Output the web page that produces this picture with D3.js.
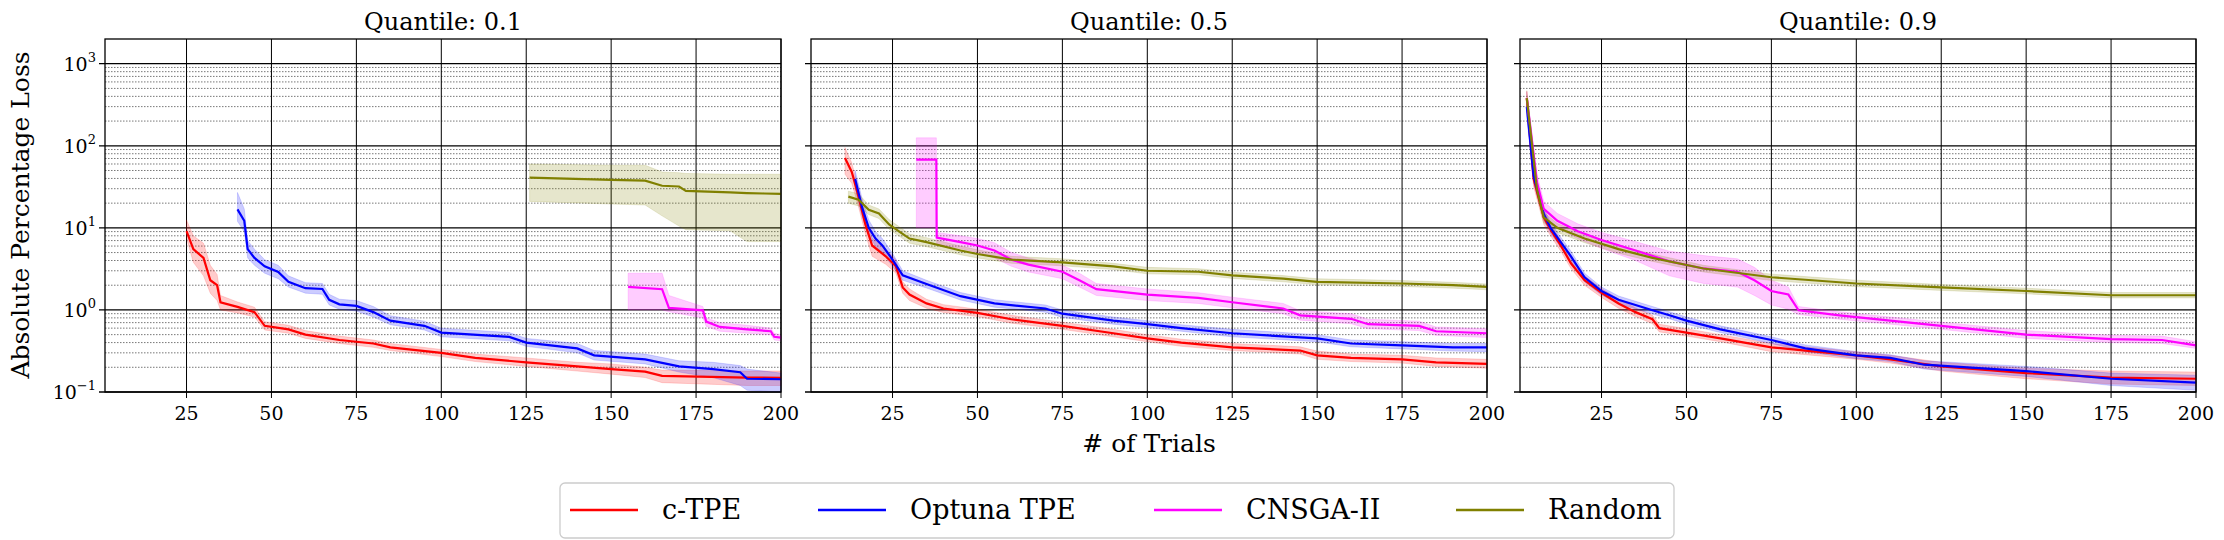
<!DOCTYPE html>
<html><head><meta charset="utf-8">
<script src="https://cdn.jsdelivr.net/npm/d3@7"></script>
<style>body{margin:0;background:#fff}text{font-family:"DejaVu Serif","Liberation Serif",serif}</style>
</head><body><svg id="c" width="2224" height="540"></svg>
<script>
// panel titles and series
var titles = ["Quantile: 0.1", "Quantile: 0.5", "Quantile: 0.9"];
var names = ["c-TPE", "Optuna TPE", "CNSGA-II", "Random"];
var colors = ["#ff0000", "#0000ff", "#ff00ff", "#808000"];
var xTicks = [25, 50, 75, 100, 125, 150, 175, 200];
var yTicks = [0.1, 1, 10, 100, 1000];

// quantile 0.1
var q1_ctpe_x = [25,27,30,32,34,35,40,45,48,55,60,70,80,85,100,110,125,140,150,160,165,190,200];
var q1_ctpe_m = [9.1,5.5,4.3,2.3,2.0,1.24,1.09,0.94,0.64,0.58,0.5,0.43,0.39,0.35,0.30,0.26,0.23,0.205,0.19,0.177,0.157,0.15,0.149];
var q1_ctpe_lo = [7.5,3.8,2.6,1.6,1.3,1.0,0.92,0.82,0.57,0.52,0.45,0.39,0.35,0.32,0.27,0.235,0.205,0.18,0.165,0.15,0.13,0.12,0.12];
var q1_ctpe_hi = [12.5,8,6.5,3.5,2.7,1.5,1.25,1.08,0.72,0.65,0.56,0.48,0.43,0.39,0.33,0.29,0.26,0.23,0.22,0.2,0.185,0.18,0.18];
var q1_otpe_x = [40,42,43,45,48,52,55,60,65,67,70,75,80,85,95,100,120,125,140,145,160,170,180,188,190,200];
var q1_otpe_m = [16.8,12.2,5.5,4.3,3.4,2.9,2.2,1.84,1.8,1.33,1.17,1.12,0.94,0.74,0.64,0.53,0.47,0.40,0.34,0.28,0.25,0.205,0.19,0.174,0.145,0.143];
var q1_otpe_lo = [12,9,4.3,3.5,2.8,2.4,1.9,1.6,1.55,1.15,1.02,0.97,0.82,0.66,0.57,0.47,0.42,0.36,0.3,0.245,0.22,0.175,0.15,0.12,0.105,0.1];
var q1_otpe_hi = [27,17,7,5.5,4.1,3.5,2.6,2.15,2.1,1.55,1.35,1.3,1.1,0.85,0.73,0.6,0.53,0.45,0.39,0.32,0.29,0.24,0.23,0.21,0.19,0.17];
var q1_cns_x = [155,165,167,177,178,182,190,197,198,200];
var q1_cns_m = [1.91,1.79,1.06,0.99,0.72,0.62,0.58,0.55,0.47,0.46];
var q1_cns_lo = [1.0,1.0,0.95,0.8,0.63,0.55,0.52,0.5,0.43,0.42];
var q1_cns_hi = [2.8,2.8,1.5,1.1,0.8,0.7,0.65,0.6,0.52,0.5];
var q1_rnd_x = [126,150,160,165,170,172,185,190,195,200];
var q1_rnd_m = [40.9,38.4,37.6,32.6,31.9,28.2,27,26.5,26.2,26];
var q1_rnd_lo = [21,19.5,19,14,10.5,9.5,9.2,6.8,6.8,6.8];
var q1_rnd_hi = [60,58,58,48,47,46,45,45,45,45];

// quantile 0.5
var q5_ctpe_x = [11,13,15,17,19,23,26,28,30,35,40,50,60,75,90,100,110,125,145,150,160,175,185,200];
var q5_ctpe_m = [71,48,24,11,6.1,4.5,3.4,1.88,1.54,1.2,1.04,0.92,0.77,0.64,0.52,0.45,0.40,0.35,0.32,0.28,0.26,0.25,0.23,0.22];
var q5_ctpe_lo = [45,35,18,8.5,4.5,3.6,2.8,1.6,1.3,1.05,0.93,0.83,0.69,0.58,0.47,0.41,0.36,0.32,0.29,0.25,0.235,0.225,0.205,0.195];
var q5_ctpe_hi = [95,62,30,14,7.5,5.5,4.1,2.2,1.8,1.35,1.16,1.02,0.86,0.71,0.58,0.5,0.44,0.39,0.355,0.315,0.29,0.28,0.26,0.25];
var q5_otpe_x = [14,16,18,20,22,25,28,35,45,55,70,75,90,100,110,125,150,160,175,190,200];
var q5_otpe_m = [39.5,18,10,7.4,6.1,4.1,2.64,2.07,1.47,1.2,1.04,0.9,0.74,0.67,0.6,0.52,0.45,0.39,0.37,0.35,0.35];
var q5_otpe_lo = [30,14,8,6,5,3.4,2.3,1.85,1.32,1.08,0.94,0.81,0.67,0.61,0.55,0.47,0.41,0.355,0.335,0.315,0.31];
var q5_otpe_hi = [50,23,12.5,9,7.4,4.9,3.0,2.3,1.63,1.33,1.15,1.0,0.82,0.74,0.66,0.58,0.5,0.43,0.41,0.39,0.39];
var q5_cns_x = [32,37.9,38,45,50,55,60,65,75,80,85,100,115,125,140,145,160,165,180,185,200];
var q5_cns_m = [68,68,7.6,6.7,6.1,5.3,4.1,3.56,2.92,2.3,1.79,1.54,1.40,1.24,1.04,0.86,0.78,0.67,0.64,0.55,0.52];
var q5_cns_lo = [10,10,6.3,5.6,5.0,4.3,3.4,2.9,2.4,1.9,1.5,1.3,1.2,1.06,0.9,0.75,0.68,0.59,0.56,0.49,0.46];
var q5_cns_hi = [125,125,8.8,8.0,7.4,6.6,5.0,4.3,3.5,2.8,2.1,1.8,1.62,1.43,1.2,0.98,0.9,0.77,0.73,0.62,0.59];
var q5_rnd_x = [12,15,18,21,24,27,30,35,45,50,60,75,90,100,115,125,140,150,175,190,200];
var q5_rnd_m = [24,22,16.6,15,11,9,7.4,6.7,5.3,4.8,4.1,3.8,3.4,3.0,2.92,2.64,2.4,2.2,2.1,2.0,1.91];
var q5_rnd_lo = [20,18.5,14.5,13,9.6,7.9,6.5,5.9,4.7,4.3,3.7,3.45,3.1,2.75,2.68,2.42,2.2,2.02,1.93,1.84,1.76];
var q5_rnd_hi = [28,26,19,17,12.6,10.3,8.4,7.6,6,5.4,4.5,4.2,3.7,3.3,3.18,2.88,2.62,2.4,2.28,2.17,2.07];

// quantile 0.9
var q9_ctpe_x = [3,5,8,10,13,16,20,25,30,35,40,42,50,60,75,85,100,110,125,150,175,200];
var q9_ctpe_m = [380,39.5,13.4,9.5,6.1,3.7,2.3,1.62,1.2,0.94,0.77,0.6,0.53,0.45,0.35,0.32,0.28,0.25,0.205,0.17,0.15,0.145];
var q9_ctpe_lo = [280,32,11,8,5.2,3.2,2.0,1.42,1.05,0.83,0.68,0.54,0.48,0.41,0.31,0.285,0.25,0.225,0.18,0.145,0.125,0.12];
var q9_ctpe_hi = [460,48,16,11,7.1,4.3,2.6,1.82,1.36,1.06,0.86,0.67,0.59,0.5,0.39,0.355,0.31,0.28,0.23,0.195,0.18,0.175];
var q9_otpe_x = [3,5,8,10,13,16,20,25,30,40,45,50,60,75,85,100,110,120,150,175,200];
var q9_otpe_m = [300,43,14.8,10,6.7,4.5,2.5,1.7,1.33,0.99,0.86,0.74,0.58,0.43,0.34,0.28,0.26,0.215,0.18,0.145,0.13];
var q9_otpe_lo = [230,35,12.5,8.6,5.8,3.9,2.2,1.52,1.19,0.89,0.78,0.67,0.53,0.39,0.31,0.255,0.235,0.19,0.155,0.12,0.105];
var q9_otpe_hi = [380,52,17.5,11.6,7.7,5.2,2.8,1.9,1.48,1.1,0.95,0.82,0.64,0.47,0.375,0.31,0.285,0.24,0.205,0.17,0.16];
var q9_cns_x = [3,6,8,12,18,25,35,45,55,65,70,75,80,83,95,110,125,150,175,190,200];
var q9_cns_m = [380,36,17,12.2,9.1,7.1,5.3,3.9,3.2,2.92,2.3,1.7,1.54,0.99,0.86,0.74,0.64,0.50,0.44,0.43,0.37];
var q9_cns_lo = [280,28,13.5,10,7.4,5.6,4.0,2.6,2.1,1.9,1.5,1.15,1.02,0.88,0.77,0.67,0.58,0.45,0.4,0.39,0.34];
var q9_cns_hi = [460,45,21,15,11.2,8.8,6.8,5.2,4.6,4.2,3.3,2.3,1.9,1.1,0.95,0.82,0.71,0.56,0.49,0.48,0.41];
var q9_rnd_x = [3,6,8,12,20,30,40,55,75,100,125,150,175,200];
var q9_rnd_m = [380,29.5,13.4,10,7.4,5.5,4.3,3.2,2.5,2.1,1.88,1.7,1.51,1.51];
var q9_rnd_lo = [290,25,11.5,8.8,6.6,4.9,3.9,2.9,2.28,1.92,1.73,1.57,1.4,1.4];
var q9_rnd_hi = [470,34,15.5,11.3,8.3,6.1,4.8,3.5,2.73,2.3,2.04,1.84,1.63,1.63];

var panels = [
  [[q1_ctpe_x,q1_ctpe_m,q1_ctpe_lo,q1_ctpe_hi],[q1_otpe_x,q1_otpe_m,q1_otpe_lo,q1_otpe_hi],[q1_cns_x,q1_cns_m,q1_cns_lo,q1_cns_hi],[q1_rnd_x,q1_rnd_m,q1_rnd_lo,q1_rnd_hi]],
  [[q5_ctpe_x,q5_ctpe_m,q5_ctpe_lo,q5_ctpe_hi],[q5_otpe_x,q5_otpe_m,q5_otpe_lo,q5_otpe_hi],[q5_cns_x,q5_cns_m,q5_cns_lo,q5_cns_hi],[q5_rnd_x,q5_rnd_m,q5_rnd_lo,q5_rnd_hi]],
  [[q9_ctpe_x,q9_ctpe_m,q9_ctpe_lo,q9_ctpe_hi],[q9_otpe_x,q9_otpe_m,q9_otpe_lo,q9_otpe_hi],[q9_cns_x,q9_cns_m,q9_cns_lo,q9_cns_hi],[q9_rnd_x,q9_rnd_m,q9_rnd_lo,q9_rnd_hi]]
];

var svg = d3.select("#c");
var lefts = [105, 811, 1520], pw = 676, pTop = 39, pBottom = 392;
var y = d3.scaleLog().domain([0.1, 2000]).range([pBottom, pTop]);
var minor = [];
for (var e = -1; e <= 3; e++) for (var k = 2; k <= 9; k++) { var v = k * Math.pow(10, e); if (v < 2000) minor.push(v); }

panels.forEach(function(series, p) {
  var x = d3.scaleLinear().domain([1, 200]).range([lefts[p], lefts[p] + pw]);
  var g = svg.append("g");
  g.selectAll(".mn").data(minor).enter().append("line")
    .attr("x1", lefts[p]).attr("x2", lefts[p] + pw).attr("y1", y).attr("y2", y)
    .attr("stroke", "#555").attr("stroke-width", 0.8).attr("stroke-dasharray", "1.5,1.5");
  g.selectAll(".mj").data(yTicks).enter().append("line")
    .attr("x1", lefts[p] - 6).attr("x2", lefts[p] + pw).attr("y1", y).attr("y2", y)
    .attr("stroke", "#000").attr("stroke-width", 1.3);
  g.selectAll(".xg").data(xTicks).enter().append("line")
    .attr("x1", x).attr("x2", x).attr("y1", pTop).attr("y2", pBottom + 6)
    .attr("stroke", "#000").attr("stroke-width", 1);
  series.forEach(function(s, i) {
    var pts = s[0].map(function(d, j) { return {x: d, m: s[1][j], lo: s[2][j], hi: s[3][j]}; });
    g.append("path").datum(pts).attr("fill", colors[i]).attr("fill-opacity", 0.2)
      .attr("stroke", colors[i]).attr("stroke-opacity", 0.15)
      .attr("d", d3.area().x(function(d) { return x(d.x); }).y0(function(d) { return y(d.lo); }).y1(function(d) { return y(d.hi); }));
  });
  series.forEach(function(s, i) {
    var pts = s[0].map(function(d, j) { return {x: d, m: s[1][j]}; });
    g.append("path").datum(pts).attr("fill", "none").attr("stroke", colors[i]).attr("stroke-width", 2.2)
      .attr("d", d3.line().x(function(d) { return x(d.x); }).y(function(d) { return y(d.m); }));
  });
  g.append("rect").attr("x", lefts[p]).attr("y", pTop).attr("width", pw).attr("height", pBottom - pTop)
    .attr("fill", "none").attr("stroke", "#000").attr("stroke-width", 1.3);
  g.selectAll(".xl").data(xTicks).enter().append("text").attr("x", x).attr("y", 420)
    .attr("text-anchor", "middle").attr("font-size", 19).text(function(d) { return d; });
  g.append("text").attr("x", lefts[p] + pw / 2).attr("y", 30).attr("text-anchor", "middle")
    .attr("font-size", 24).text(titles[p]);
  if (p === 0) {
    var yl = g.selectAll(".yl").data(yTicks).enter().append("text").attr("x", 96)
      .attr("y", function(d) { return y(d) + 7; }).attr("text-anchor", "end").attr("font-size", 19);
    yl.append("tspan").text("10");
    yl.append("tspan").attr("dy", -9).attr("font-size", 13).text(function(d) { return Math.round(Math.log10(d)) < 0 ? "\u22121" : Math.round(Math.log10(d)); });
  }
});

svg.append("text").attr("transform", "translate(29,215) rotate(-90)").attr("text-anchor", "middle")
  .attr("font-size", 25).text("Absolute Percentage Loss");
svg.append("text").attr("x", 1149).attr("y", 452).attr("text-anchor", "middle").attr("font-size", 25).text("# of Trials");

var lg = svg.append("g");
lg.append("rect").attr("x", 560).attr("y", 483).attr("width", 1114).attr("height", 55).attr("rx", 5)
  .attr("fill", "#fff").attr("stroke", "#ccc").attr("stroke-width", 1.3);
var lx = [570, 818, 1154, 1456];
names.forEach(function(n, i) {
  lg.append("line").attr("x1", lx[i]).attr("x2", lx[i] + 68).attr("y1", 510).attr("y2", 510)
    .attr("stroke", colors[i]).attr("stroke-width", 2.5);
  lg.append("text").attr("x", lx[i] + 92).attr("y", 519).attr("font-size", 27).text(n);
});
</script></body></html>
